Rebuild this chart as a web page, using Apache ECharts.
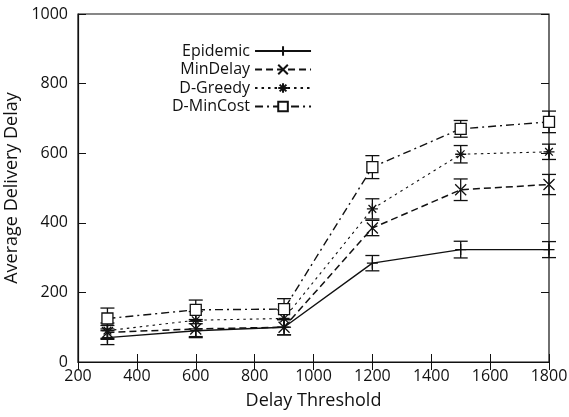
<!DOCTYPE html>
<html>
<head>
<meta charset="utf-8">
<title>Average Delivery Delay</title>
<script src="https://cdn.jsdelivr.net/npm/echarts@6/dist/echarts.min.js"></script>
<style>body{margin:0;background:#fff}</style>
</head>
<body>
<div id="main" style="width:569px;height:417px;"></div>
<script type="text/javascript">
var thresholds = [300, 600, 900, 1200, 1500, 1800];
var names = ['Epidemic', 'MinDelay', 'D-Greedy', 'D-MinCost'];
var epidemic = [70, 90, 100, 284, 323, 323];
var minDelay = [85, 95, 100, 385, 495, 510];
var dGreedy = [90, 120, 125, 440, 597, 604];
var dMinCost = [125, 150, 152, 560, 670, 690];
var epidemicErr = [20, 20, 22, 22, 24, 23];
var minDelayErr = [20, 22, 22, 22, 31, 29];
var dGreedyErr = [22, 25, 25, 29, 25, 22];
var dMinCostErr = [30, 28, 30, 33, 24, 31];

var values = [epidemic, minDelay, dGreedy, dMinCost];
var errors = [epidemicErr, minDelayErr, dGreedyErr, dMinCostErr];
var dashes = ['solid', [7, 4], [2.5, 4], [8, 4, 2, 4]];
var widths = [1.4, 1.5, 1.1, 1.4];
var symbols = [
    'path://M0,5L10,5M5,0L5,10',
    'path://M0,0L10,10M10,0L0,10',
    'path://M0,5L10,5M5,0L5,10M1.5,1.5L8.5,8.5M8.5,1.5L1.5,8.5',
    'rect'
];
var ink = '#111';
var font = 'Open Sans';

var myChart = echarts.init(document.getElementById('main'));

function pairs(vals) {
    return thresholds.map(function (x, i) { return [x, vals[i]]; });
}

var series = [];
names.forEach(function (name, k) {
    series.push({
        name: name,
        type: 'line',
        data: pairs(values[k]),
        symbol: symbols[k],
        symbolSize: 11,
        lineStyle: {color: ink, width: widths[k], type: dashes[k]},
        itemStyle: {color: k === 3 ? '#fff' : 'none', borderColor: ink, borderWidth: 1.3},
        z: 3
    });
    series.push({
        type: 'custom',
        data: thresholds.map(function (x, i) { return [x, values[k][i] - errors[k][i], values[k][i] + errors[k][i]]; }),
        renderItem: function (params, api) {
            var lo = api.coord([api.value(0), api.value(1)]);
            var hi = api.coord([api.value(0), api.value(2)]);
            var w = 7;
            return {
                type: 'group',
                children: [
                    {type: 'line', shape: {x1: lo[0], y1: lo[1], x2: hi[0], y2: hi[1]}, style: {stroke: ink, lineWidth: 1.3}},
                    {type: 'line', shape: {x1: lo[0] - w, y1: lo[1], x2: lo[0] + w, y2: lo[1]}, style: {stroke: ink, lineWidth: 1.3}},
                    {type: 'line', shape: {x1: hi[0] - w, y1: hi[1], x2: hi[0] + w, y2: hi[1]}, style: {stroke: ink, lineWidth: 1.3}}
                ]
            };
        },
        z: 2,
        silent: true
    });
});

var tickStyle = {inside: true, length: 8, lineStyle: {color: ink, width: 1}};
var plain = function (v) { return String(v); };

option = {
    animation: false,
    grid: {left: 78, right: 20, top: 14, bottom: 55, show: true, borderColor: ink, borderWidth: 1.2, outerBoundsMode: 'none'},
    legend: {
        data: names,
        orient: 'vertical',
        left: 167,
        top: 38,
        align: 'right',
        itemWidth: 56,
        itemHeight: 12,
        itemGap: 2.5,
        textStyle: {fontFamily: font, fontSize: 16, color: ink, width: 90, align: 'right'}
    },
    xAxis: [{
        type: 'value', min: 200, max: 1800, interval: 200,
        name: 'Delay Threshold', nameLocation: 'middle', nameGap: 30,
        nameTextStyle: {fontFamily: font, fontSize: 18, color: ink},
        axisLine: {lineStyle: {color: ink, width: 1.2}},
        axisTick: tickStyle,
        axisLabel: {fontFamily: font, fontSize: 16, color: ink, margin: 6, formatter: plain},
        splitLine: {show: false}
    }, {
        type: 'value', min: 200, max: 1800, interval: 200, position: 'top',
        axisLine: {show: false}, axisTick: tickStyle, axisLabel: {show: false}, splitLine: {show: false}
    }],
    yAxis: [{
        type: 'value', min: 0, max: 1000, interval: 200,
        name: 'Average Delivery Delay', nameLocation: 'middle', nameGap: 48,
        nameTextStyle: {fontFamily: font, fontSize: 18, color: ink},
        axisLine: {show: true, lineStyle: {color: ink, width: 1.2}},
        axisTick: tickStyle,
        axisLabel: {fontFamily: font, fontSize: 16, color: ink, margin: 10, formatter: plain},
        splitLine: {show: false}
    }, {
        type: 'value', min: 0, max: 1000, interval: 200, position: 'right',
        axisLine: {show: false}, axisTick: tickStyle, axisLabel: {show: false}, splitLine: {show: false}
    }],
    series: series
};

myChart.setOption(option);
</script>
</body>
</html>
